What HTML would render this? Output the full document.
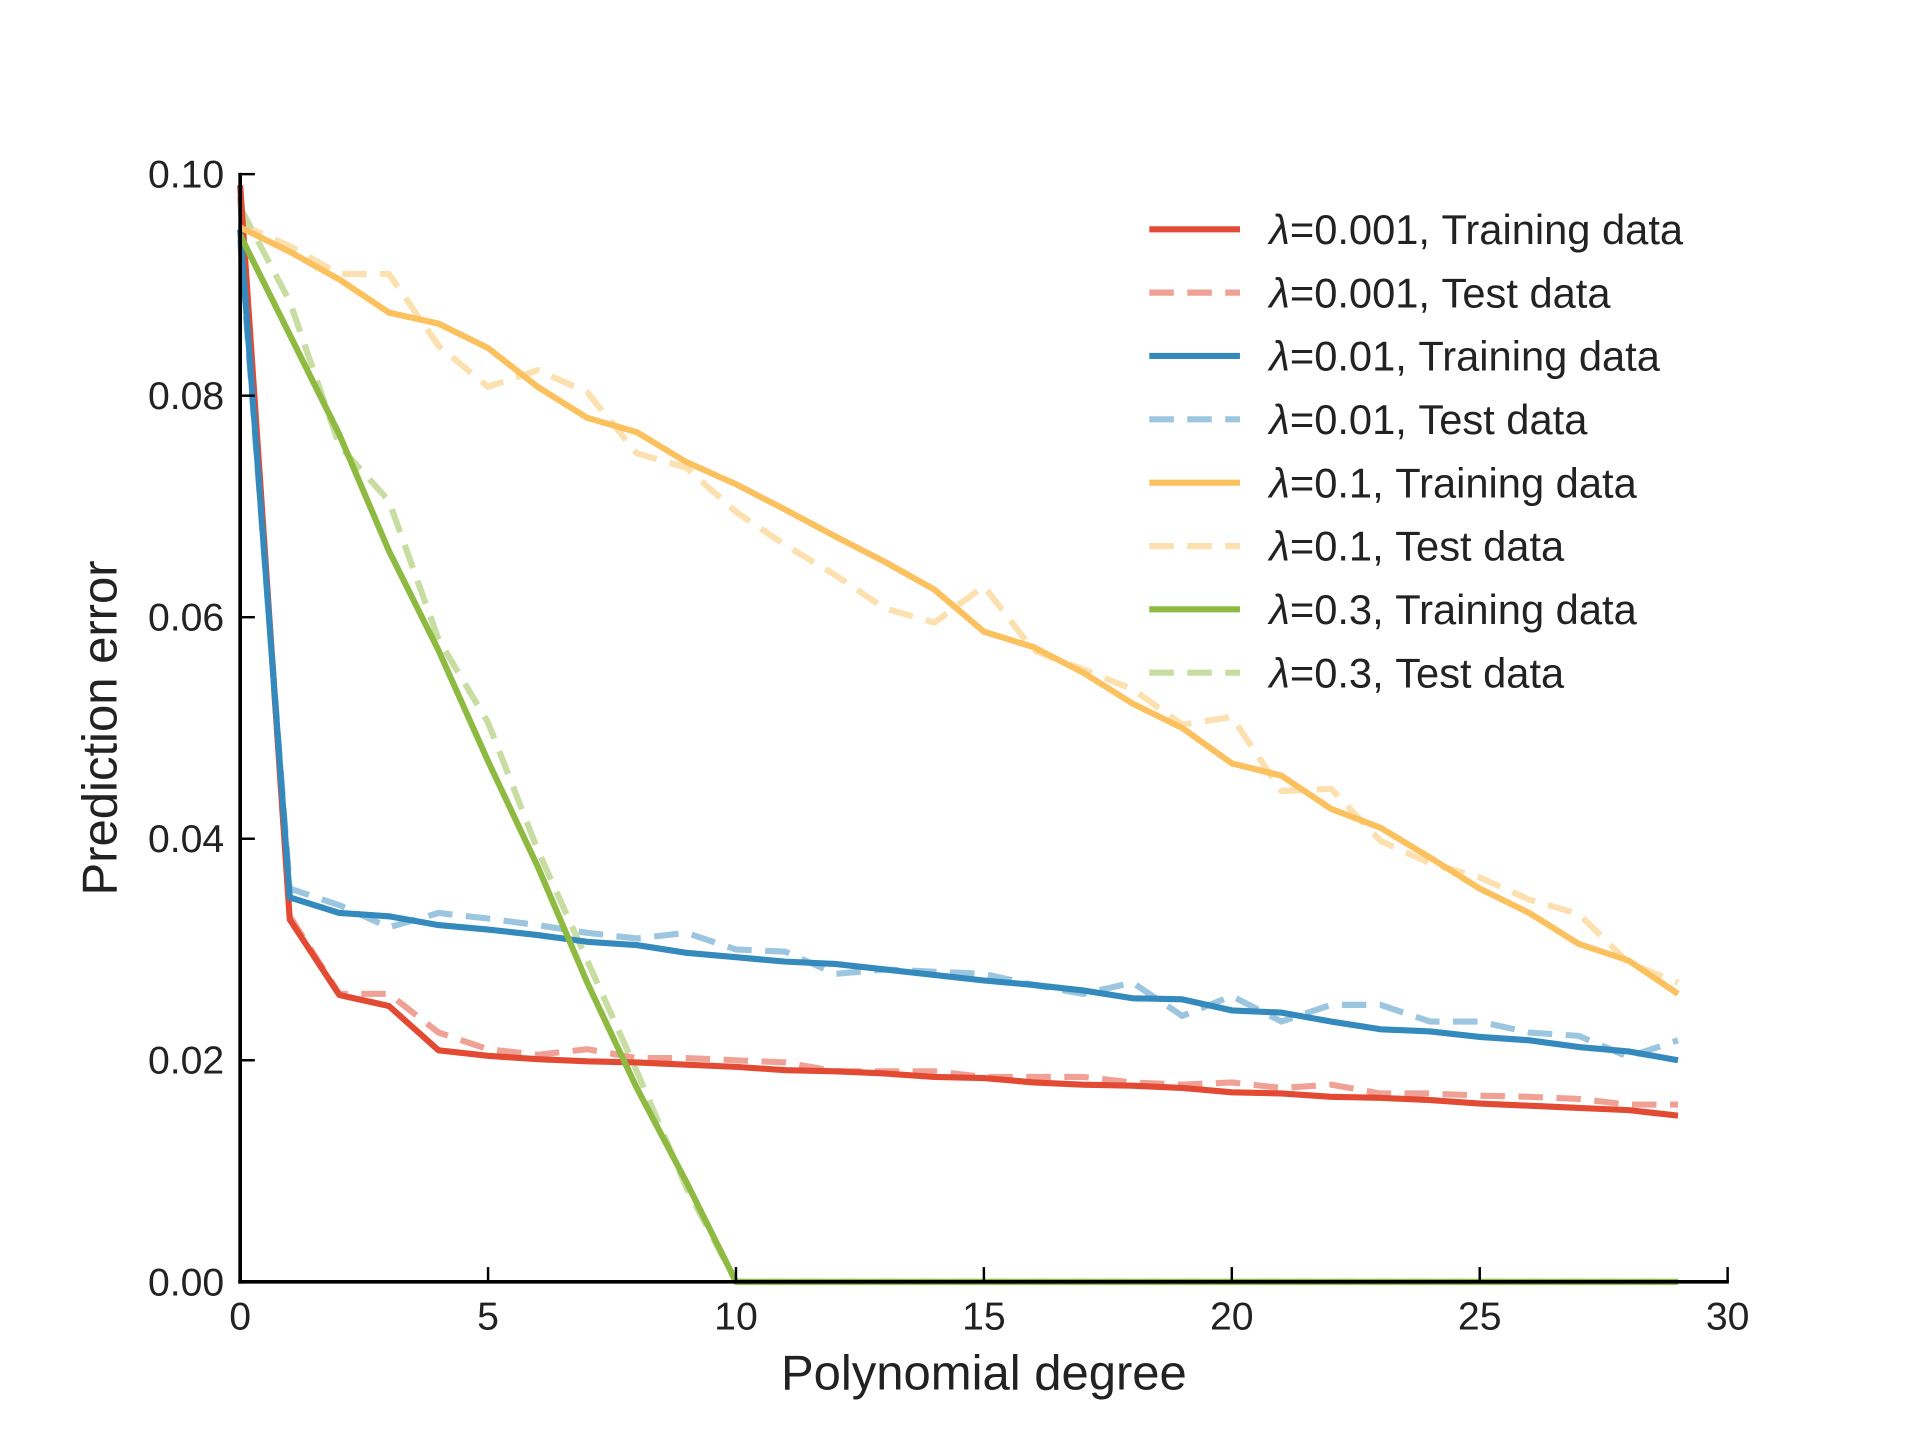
<!DOCTYPE html>
<html><head><meta charset="utf-8"><style>html,body{margin:0;padding:0;background:#fff}svg{display:block}text{font-family:"Liberation Sans",sans-serif;fill:#222}</style></head>
<body>
<svg id="chart" width="1920" height="1440" viewBox="0 0 1567 1175" xmlns="http://www.w3.org/2000/svg">
<g id="plot"></g>
<g id="axes"></g>
<g id="legend"></g>
</svg>
<script>
const degrees = Array.from({length:30},(_, i)=>i);
const xTicks = [0,5,10,15,20,25,30];
const yTicks = [0,0.02,0.04,0.06,0.08,0.10];
const yTickLabels = ["0.00","0.02","0.04","0.06","0.08","0.10"];
const xTickLabels = ["0","5","10","15","20","25","30"];
const red001Train = [0.099,0.0327,0.0259,0.0249,0.0209,0.0204,0.0201,0.0199,0.0198,0.0196,0.0194,0.0191,0.019,0.0188,0.0185,0.0184,0.018,0.0178,0.0177,0.0175,0.0171,0.017,0.0167,0.0166,0.0164,0.0161,0.0159,0.0157,0.0155,0.015];
const red001Test = [0.098,0.033,0.026,0.026,0.0225,0.021,0.0205,0.021,0.0202,0.0202,0.020,0.0198,0.019,0.019,0.019,0.0185,0.0185,0.0185,0.018,0.0178,0.018,0.0175,0.0178,0.017,0.017,0.0168,0.0167,0.0165,0.016,0.016];
const blue01Train = [0.095,0.0347,0.0333,0.033,0.0322,0.0318,0.0313,0.0307,0.0304,0.0297,0.0293,0.0289,0.0287,0.0282,0.0277,0.0272,0.0268,0.0263,0.0256,0.0255,0.0245,0.0243,0.0235,0.0228,0.0226,0.0221,0.0218,0.0212,0.0208,0.020];
const blue01Test = [0.094,0.0355,0.034,0.032,0.0333,0.0328,0.0322,0.0315,0.031,0.0315,0.030,0.0298,0.0278,0.0282,0.028,0.0278,0.0268,0.026,0.027,0.024,0.0258,0.0235,0.025,0.025,0.0235,0.0235,0.0225,0.0222,0.0203,0.0218];
const orange1Train = [0.0952,0.093,0.0905,0.0875,0.0865,0.0843,0.0808,0.078,0.0767,0.074,0.072,0.0697,0.0673,0.065,0.0625,0.0587,0.0573,0.055,0.0522,0.050,0.0468,0.0457,0.0427,0.041,0.0383,0.0355,0.0333,0.0305,0.029,0.026];
const orange1Test = [0.0955,0.0935,0.091,0.091,0.0845,0.0808,0.0823,0.0803,0.0748,0.0735,0.0695,0.0665,0.0638,0.0608,0.0595,0.0628,0.057,0.0553,0.0535,0.0503,0.051,0.0443,0.0445,0.0398,0.0378,0.0365,0.0345,0.0332,0.0288,0.027];
const green3Train = [0.0945,0.0855,0.0765,0.066,0.057,0.047,0.0375,0.027,0.0175,0.009,0,0,0,0,0,0,0,0,0,0,0,0,0,0,0,0,0,0,0,0];
const green3Test = [0.097,0.0885,0.0755,0.0705,0.058,0.0505,0.039,0.029,0.019,0.0085,0,0,0,0,0,0,0,0,0,0,0,0,0,0,0,0,0,0,0,0];

const NS="http://www.w3.org/2000/svg";
const X0=196,X1=1410,Y0=1046,Y1=142;
const xs=v=>X0+(v-0)/(30-0)*(X1-X0);
const ys=v=>Y0-(v-0)/(0.1-0)*(Y0-Y1);
function mk(tag,attrs,parent){const e=document.createElementNS(NS,tag);for(const k in attrs)e.setAttribute(k,attrs[k]);parent.appendChild(e);return e;}
const plot=document.getElementById('plot'),axes=document.getElementById('axes'),legend=document.getElementById('legend');
const series=[
 {name:"λ=0.001, Training data",data:red001Train,color:"#e24a33",dash:null,key:"lambda-0.001-training"},
 {name:"λ=0.001, Test data",data:red001Test,color:"#f0a196",dash:"20,11",key:"lambda-0.001-test"},
 {name:"λ=0.01, Training data",data:blue01Train,color:"#348abd",dash:null,key:"lambda-0.01-training"},
 {name:"λ=0.01, Test data",data:blue01Test,color:"#9cc5e0",dash:"20,11",key:"lambda-0.01-test"},
 {name:"λ=0.1, Training data",data:orange1Train,color:"#fbc15e",dash:null,key:"lambda-0.1-training"},
 {name:"λ=0.1, Test data",data:orange1Test,color:"#fce0af",dash:"20,11",key:"lambda-0.1-test"},
 {name:"λ=0.3, Training data",data:green3Train,color:"#8eba42",dash:null,key:"lambda-0.3-training"},
 {name:"λ=0.3, Test data",data:green3Test,color:"#c7dda1",dash:"20,11",key:"lambda-0.3-test"}
];
const order=[1,3,5,7,0,2,4,6];
order.forEach(i=>{const s=series[i];
 const pts=s.data.map((v,j)=>xs(degrees[j]).toFixed(1)+","+ys(v).toFixed(1)).join(" ");
 const pl=mk('polyline',{points:pts,fill:"none",stroke:s.color,"stroke-width":5,"stroke-linejoin":"round"},plot);
 if(s.dash)pl.setAttribute('stroke-dasharray',s.dash);
 
 
});
let sp=mk('line',{x1:X0,y1:Y1-1,x2:X0,y2:Y0+1.5,stroke:"#000","stroke-width":3},axes);


sp=mk('line',{x1:X0-1.5,y1:Y0,x2:X1+1,y2:Y0,stroke:"#000","stroke-width":3},axes);


yTicks.forEach((v,i)=>{const y=ys(v);
 mk('line',{x1:X0,y1:y,x2:X0+12,y2:y,stroke:"#000","stroke-width":2},axes);
 const t=mk('text',{x:183,y:y+11,"text-anchor":"end","font-size":32},axes);t.textContent=yTickLabels[i];
 
 
});
xTicks.forEach((v,i)=>{const x=xs(v);
 mk('line',{x1:x,y1:Y0,x2:x,y2:Y0-12,stroke:"#000","stroke-width":2},axes);
 const t=mk('text',{x:x,y:1085,"text-anchor":"middle","font-size":32},axes);t.textContent=xTickLabels[i];
 
 
});
let tt=mk('text',{x:803,y:1134,"text-anchor":"middle","font-size":40},axes);tt.textContent="Polynomial degree";


tt=mk('text',{x:95,y:594,"text-anchor":"middle","font-size":40,transform:"rotate(-90 95 594)"},axes);tt.textContent="Prediction error";


series.forEach((s,i)=>{const y=187+i*51.7;
 const g=mk('g',{},legend);
 
 
 const l=mk('line',{x1:938,y1:y,x2:1012,y2:y,stroke:s.color,"stroke-width":5},g);
 if(s.dash)l.setAttribute('stroke-dasharray',"20,11");
 const t=mk('text',{x:1036,y:y+12,"font-size":34},g);
 const it=mk('tspan',{"font-style":"italic"},t);it.textContent="λ";
 const rest=mk('tspan',{},t);rest.textContent=s.name.slice(1);
});
</script>
</body></html>
